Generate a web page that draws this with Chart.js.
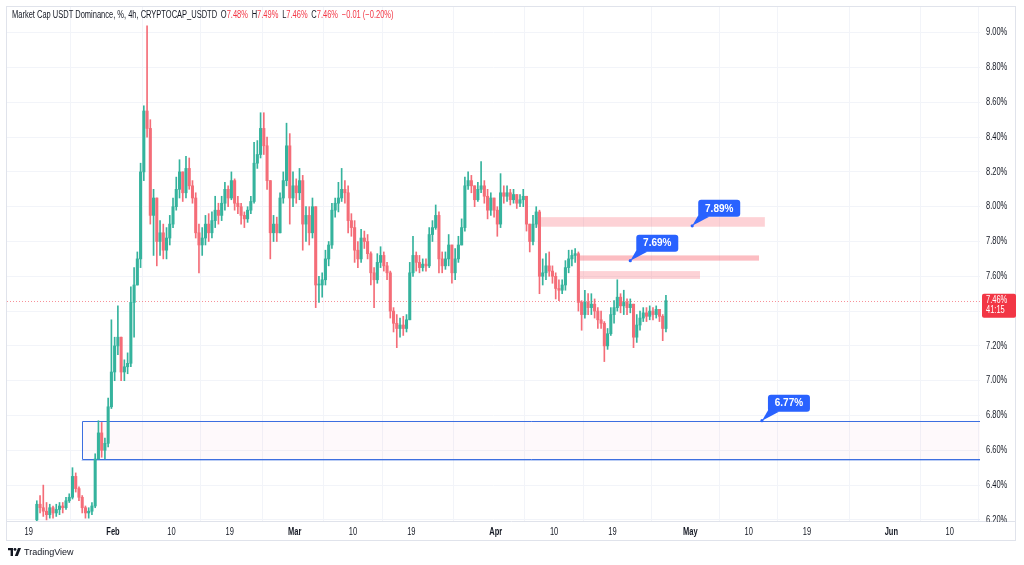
<!DOCTYPE html>
<html>
<head>
<meta charset="utf-8">
<script src="https://cdn.jsdelivr.net/npm/chart.js@4.4.1/dist/chart.umd.min.js"></script>
<style>
  html, body { margin: 0; padding: 0; background: #fff; }
  #wrap { position: relative; width: 1024px; height: 565px; overflow: hidden; }
  #c { position: absolute; left: 0; top: 0; }
  #hdr { position: absolute; left: 12px; top: 8px; font: 10px 'Liberation Sans', Arial, sans-serif; color: #131722; white-space: nowrap; line-height: 14px; transform: scaleX(0.75); transform-origin: 0 0; }
  #hdr .v { color: #f23645; }
  #hdr .k { margin-left: 5px; }
  #ftr { position: absolute; left: 8px; top: 547px; font: 9px 'Liberation Sans', Arial, sans-serif; color: #131722; white-space: nowrap; display: flex; align-items: center; gap: 3px; }
</style>
</head>
<body>
<div id="wrap">
  <canvas id="c" width="1024" height="565"></canvas>
  <div id="hdr">Market Cap USDT Dominance, %, 4h, CRYPTOCAP_USDTD<span class="k">O</span><span class="v">7.48%</span><span class="k">H</span><span class="v">7.49%</span><span class="k">L</span><span class="v">7.46%</span><span class="k">C</span><span class="v">7.46%</span><span class="v k">−0.01 (−0.20%)</span></div>
  <div id="ftr"><svg width="13" height="8" viewBox="0 0 13 8"><path d="M0 0h5v8H2.6V2.3H0z" fill="#131722"/><circle cx="7" cy="1.4" r="1.4" fill="#131722"/><path d="M10 0h3l-3.2 8H6.8z" fill="#131722"/></svg><span>TradingView</span></div>
</div>
<script>
// 12h candles, first one centred on Jan 20 06:00 (x unit = day of year)
const firstCandleDay = 20.25;
const candleStep = 0.5;
const firstOpen = 6.20;

const closes = [
  6.29, 6.27, 6.25, 6.23, 6.27, 6.24, 6.26, 6.28, 6.27, 6.31,
  6.33, 6.45, 6.38, 6.33, 6.27, 6.24, 6.25, 6.28, 6.55, 6.70,
  6.60, 6.64, 6.85, 7.05, 7.20, 7.25, 7.05, 7.08, 7.10, 7.45,
  7.55, 7.70, 8.20, 8.55, 8.45, 7.95, 8.05, 7.80, 7.85, 7.75,
  7.82, 7.90, 8.00, 8.10, 8.20, 8.08, 8.22, 8.12, 8.05, 7.85,
  7.78, 7.82, 7.90, 7.85, 7.92, 7.98, 7.95, 8.02, 8.10, 8.05,
  8.15, 8.02, 8.00, 7.95, 7.93, 7.98, 8.03, 8.25, 8.30, 8.45,
  8.35, 8.15, 7.85, 7.90, 7.85, 8.05, 8.15, 8.35, 8.05, 8.12,
  8.08, 8.15, 7.90, 7.95, 7.85, 8.00, 7.55, 7.55, 7.58, 7.70,
  7.78, 7.98, 8.02, 8.05, 8.10, 8.08, 7.92, 7.88, 7.75, 7.70,
  7.82, 7.80, 7.73, 7.62, 7.58, 7.68, 7.72, 7.66, 7.62, 7.40,
  7.33, 7.30, 7.32, 7.30, 7.35, 7.62, 7.72, 7.68, 7.65, 7.67,
  7.66, 7.84, 7.88, 7.95, 7.70, 7.66, 7.70, 7.78, 7.62, 7.70,
  7.78, 7.88, 8.12, 8.15, 8.12, 8.04, 8.10, 8.12, 8.06, 7.98,
  8.05, 7.98, 7.90, 8.08, 8.06, 8.08, 8.04, 8.07, 8.02, 8.04,
  8.06, 7.90, 7.80, 7.90, 7.97, 7.60, 7.62, 7.66, 7.63, 7.60,
  7.53, 7.52, 7.55, 7.65, 7.70, 7.72, 7.73, 7.45, 7.38, 7.45,
  7.42, 7.44, 7.40, 7.35, 7.33, 7.20, 7.27, 7.38, 7.42, 7.48,
  7.43, 7.45, 7.42, 7.44, 7.25, 7.32, 7.36, 7.39, 7.37, 7.40,
  7.38, 7.41, 7.37, 7.30, 7.46
];
const highs = [
  6.31, 6.34, 6.40, 6.30, 6.29, 6.28, 6.29, 6.30, 6.30, 6.33,
  6.35, 6.50, 6.47, 6.39, 6.34, 6.28, 6.27, 6.30, 6.58, 6.77,
  6.76, 6.67, 6.90, 7.35, 7.25, 7.43, 7.25, 7.12, 7.16, 7.54,
  7.65, 7.74, 8.25, 8.58, 9.04, 8.50, 8.10, 8.05, 7.92, 7.90,
  7.88, 7.95, 8.05, 8.17, 8.27, 8.20, 8.29, 8.28, 8.15, 8.08,
  7.90, 7.88, 7.95, 7.96, 7.97, 8.06, 8.02, 8.06, 8.14, 8.12,
  8.20, 8.16, 8.06, 8.02, 7.97, 8.00, 8.06, 8.37, 8.38, 8.54,
  8.54, 8.40, 8.15, 7.95, 7.94, 8.08, 8.20, 8.48, 8.42, 8.20,
  8.16, 8.22, 8.18, 8.00, 8.00, 8.05, 8.00, 7.60, 7.62, 7.75,
  7.80, 8.02, 8.05, 8.14, 8.22, 8.15, 8.12, 7.96, 7.92, 7.80,
  7.87, 7.86, 7.84, 7.74, 7.65, 7.73, 7.77, 7.74, 7.68, 7.63,
  7.42, 7.38, 7.36, 7.37, 7.38, 7.68, 7.83, 7.74, 7.72, 7.70,
  7.70, 7.88, 7.92, 8.01, 7.97, 7.74, 7.74, 7.84, 7.78, 7.76,
  7.83, 7.93, 8.17, 8.20, 8.18, 8.12, 8.14, 8.26, 8.15, 8.10,
  8.08, 8.05, 8.00, 8.19, 8.12, 8.12, 8.10, 8.10, 8.07, 8.07,
  8.10, 8.06, 7.90, 7.95, 8.00, 7.98, 7.70, 7.73, 7.74, 7.66,
  7.62, 7.58, 7.58, 7.69, 7.75, 7.75, 7.76, 7.74, 7.46, 7.52,
  7.50, 7.50, 7.47, 7.42, 7.40, 7.34, 7.30, 7.42, 7.46, 7.58,
  7.50, 7.52, 7.47, 7.47, 7.44, 7.38, 7.40, 7.42, 7.42, 7.43,
  7.42, 7.43, 7.41, 7.38, 7.49
];
const lows = [
  6.18, 6.24, 6.22, 6.20, 6.21, 6.21, 6.22, 6.23, 6.24, 6.26,
  6.30, 6.32, 6.36, 6.31, 6.24, 6.21, 6.21, 6.23, 6.27, 6.55,
  6.56, 6.55, 6.62, 6.84, 7.00, 7.15, 7.00, 7.00, 7.04, 7.08,
  7.25, 7.55, 7.65, 8.15, 8.40, 7.90, 7.72, 7.66, 7.72, 7.70,
  7.70, 7.78, 7.88, 7.98, 8.05, 8.03, 8.05, 8.10, 8.02, 7.82,
  7.62, 7.72, 7.78, 7.80, 7.82, 7.88, 7.90, 7.92, 7.98, 8.00,
  8.04, 7.98, 7.96, 7.90, 7.88, 7.91, 7.96, 8.02, 8.22, 8.28,
  8.30, 8.10, 7.70, 7.80, 7.80, 7.85, 8.02, 8.12, 7.90, 8.00,
  8.02, 8.04, 7.75, 7.80, 7.78, 7.82, 7.42, 7.45, 7.48, 7.55,
  7.66, 7.76, 7.94, 7.97, 8.03, 8.02, 7.85, 7.83, 7.68, 7.65,
  7.68, 7.76, 7.70, 7.55, 7.42, 7.56, 7.65, 7.63, 7.58, 7.36,
  7.28, 7.19, 7.25, 7.26, 7.28, 7.35, 7.60, 7.63, 7.62, 7.63,
  7.63, 7.65, 7.80, 7.87, 7.62, 7.62, 7.64, 7.66, 7.56, 7.58,
  7.68, 7.78, 7.86, 8.10, 8.08, 8.00, 8.03, 8.08, 8.02, 7.93,
  7.95, 7.94, 7.83, 7.88, 8.02, 8.03, 8.01, 8.02, 7.99, 8.00,
  8.00, 7.86, 7.74, 7.78, 7.88, 7.50, 7.55, 7.58, 7.60, 7.56,
  7.47, 7.46, 7.50, 7.52, 7.62, 7.66, 7.68, 7.40, 7.29, 7.36,
  7.38, 7.38, 7.36, 7.30, 7.30, 7.11, 7.18, 7.26, 7.33, 7.40,
  7.39, 7.38, 7.38, 7.39, 7.19, 7.22, 7.29, 7.34, 7.34, 7.35,
  7.35, 7.36, 7.34, 7.23, 7.28
];

// axis ticks
const priceTicks = [6.2, 6.4, 6.6, 6.8, 7.0, 7.2, 7.4, 7.6, 7.8, 8.0, 8.2, 8.4, 8.6, 8.8, 9.0];
const timeTickDays = [19, 32, 41, 50, 60, 69, 78, 91, 100, 109, 121, 130, 139, 152, 161];
const timeTickLabels = ['19', 'Feb', '10', '19', 'Mar', '10', '19', 'Apr', '10', '19', 'May', '10', '19', 'Jun', '10'];

// drawings on the chart (day of year / price %)
const rangeBox = { from: 27.15, top: 6.77, bottom: 6.55 };
const zones = [
  { from: 97.4, to: 132.5, top: 7.94, bottom: 7.885, fill: 'rgba(247, 82, 95, 0.26)' },
  { from: 103.5, to: 131.6, top: 7.72, bottom: 7.69, fill: 'rgba(247, 82, 95, 0.38)' },
  { from: 103.9, to: 122.5, top: 7.63, bottom: 7.585, fill: 'rgba(247, 82, 95, 0.26)' }
];
const callouts = [
  { day: 121.3, value: 7.89, text: '7.89%' },
  { day: 111.75, value: 7.69, text: '7.69%' },
  { day: 132.05, value: 6.77, text: '6.77%' }
];
const lastPrice = 7.46;
const countdown = '41:15';

const upColor = '#35b39d';
const downColor = '#f46d78';
const labelFont = "'Liberation Sans', Arial, sans-serif";
const textSqueeze = 0.75;

const opens = closes.map((c, i) => i === 0 ? firstOpen : closes[i - 1]);
const times = closes.map((c, i) => firstCandleDay + i * candleStep);
const colorOf = i => closes[i] >= opens[i] ? upColor : downColor;

function roundRect(ctx, x, y, w, h, r) {
  ctx.beginPath();
  ctx.moveTo(x + r, y);
  ctx.lineTo(x + w - r, y);
  ctx.quadraticCurveTo(x + w, y, x + w, y + r);
  ctx.lineTo(x + w, y + h - r);
  ctx.quadraticCurveTo(x + w, y + h, x + w - r, y + h);
  ctx.lineTo(x + r, y + h);
  ctx.quadraticCurveTo(x, y + h, x, y + h - r);
  ctx.lineTo(x, y + r);
  ctx.quadraticCurveTo(x, y, x + r, y);
  ctx.closePath();
}

// narrow text like the tradingview screenshot
function squeezedText(ctx, text, x, y, align) {
  ctx.save();
  ctx.translate(x, y);
  ctx.scale(textSqueeze, 1);
  ctx.textAlign = align;
  ctx.textBaseline = 'middle';
  ctx.fillText(text, 0, 0);
  ctx.restore();
}

const drawings = {
  id: 'drawings',
  beforeDatasetsDraw(chart) {
    const { ctx, chartArea: a, scales: { x, y } } = chart;
    ctx.save();
    ctx.beginPath();
    ctx.rect(a.left, a.top, a.right - a.left, a.bottom - a.top);
    ctx.clip();
    // long range box
    const bx = x.getPixelForValue(rangeBox.from);
    const bt = y.getPixelForValue(rangeBox.top);
    const bb = y.getPixelForValue(rangeBox.bottom);
    ctx.fillStyle = 'rgba(240, 90, 150, 0.035)';
    ctx.fillRect(bx, bt, a.right - bx, bb - bt);
    ctx.strokeStyle = '#3d6fe0';
    ctx.lineWidth = 1;
    ctx.beginPath();
    ctx.moveTo(a.right, Math.round(bt) + 0.5);
    ctx.lineTo(Math.round(bx) + 0.5, Math.round(bt) + 0.5);
    ctx.lineTo(Math.round(bx) + 0.5, Math.round(bb) + 0.5);
    ctx.lineTo(a.right, Math.round(bb) + 0.5);
    ctx.stroke();
    ctx.strokeStyle = 'rgba(61, 111, 224, 0.35)';
    ctx.beginPath();
    ctx.moveTo(bx, Math.round(bb) + 1.5);
    ctx.lineTo(a.right, Math.round(bb) + 1.5);
    ctx.stroke();
    // pink zones
    zones.forEach(z => {
      const l = x.getPixelForValue(z.from), r = x.getPixelForValue(z.to);
      const t = y.getPixelForValue(z.top), b = y.getPixelForValue(z.bottom);
      ctx.fillStyle = z.fill;
      ctx.fillRect(l, t, r - l, b - t);
    });
    // last price line
    const py = Math.round(y.getPixelForValue(lastPrice)) + 0.5;
    ctx.strokeStyle = 'rgba(242, 54, 69, 0.55)';
    ctx.setLineDash([1, 2]);
    ctx.beginPath();
    ctx.moveTo(a.left, py);
    ctx.lineTo(a.right, py);
    ctx.stroke();
    ctx.restore();
  },
  afterDatasetsDraw(chart) {
    const { ctx, scales: { x, y } } = chart;
    ctx.save();
    callouts.forEach(c => {
      const ax = x.getPixelForValue(c.day), ay = y.getPixelForValue(c.value);
      const w = 42, h = 17;
      const bx = ax + 6, by = ay - 26;
      ctx.fillStyle = '#2962ff';
      roundRect(ctx, bx, by, w, h, 3);
      ctx.fill();
      ctx.beginPath();
      ctx.moveTo(bx + 1, by + h - 3);
      ctx.lineTo(bx + 11, by + h);
      ctx.lineTo(ax, ay);
      ctx.closePath();
      ctx.fill();
      ctx.beginPath();
      ctx.arc(ax, ay, 1.6, 0, Math.PI * 2);
      ctx.fill();
      ctx.fillStyle = '#ffffff';
      ctx.font = 'bold 10px ' + labelFont;
      ctx.textAlign = 'center';
      ctx.textBaseline = 'middle';
      ctx.fillText(c.text, bx + w / 2, by + h / 2 + 0.5);
    });
    ctx.restore();
  },
  afterDraw(chart) {
    const { ctx, chartArea: a, scales: { x, y } } = chart;
    ctx.save();
    // frame
    ctx.strokeStyle = '#e0e3eb';
    ctx.lineWidth = 1;
    ctx.strokeRect(a.left - 0.5, a.top - 0.5, 1016 - a.left, 541 - a.top);
    ctx.beginPath();
    ctx.moveTo(a.left, Math.round(a.bottom) + 0.5);
    ctx.lineTo(1016, Math.round(a.bottom) + 0.5);
    ctx.stroke();
    // price axis labels (clipped at the time axis)
    ctx.save();
    ctx.beginPath();
    ctx.rect(a.right, 0, 1024 - a.right, a.bottom + 1);
    ctx.clip();
    ctx.fillStyle = '#131722';
    ctx.font = '10px ' + labelFont;
    priceTicks.forEach(v => squeezedText(ctx, v.toFixed(2) + '%', a.right + 6, y.getPixelForValue(v), 'left'));
    ctx.restore();
    // time axis labels
    timeTickDays.forEach((d, i) => {
      const lbl = timeTickLabels[i];
      ctx.fillStyle = '#131722';
      ctx.font = (/[A-Za-z]/.test(lbl) ? 'bold ' : '') + '10px ' + labelFont;
      squeezedText(ctx, lbl, x.getPixelForValue(d), a.bottom + 11, 'center');
    });
    // last price tag
    const py = y.getPixelForValue(lastPrice);
    ctx.fillStyle = '#f23645';
    roundRect(ctx, a.right + 2, py - 7, 34, 24, 2);
    ctx.fill();
    ctx.fillStyle = '#ffffff';
    ctx.font = '10px ' + labelFont;
    squeezedText(ctx, lastPrice.toFixed(2) + '%', a.right + 6, py, 'left');
    squeezedText(ctx, countdown, a.right + 6, py + 10, 'left');
    ctx.restore();
  }
};

new Chart(document.getElementById('c'), {
  type: 'bar',
  data: {
    datasets: [
      {
        label: 'wicks',
        data: times.map((t, i) => ({ x: t, y: [Math.min(lows[i], opens[i], closes[i]), Math.max(highs[i], opens[i], closes[i])] })),
        backgroundColor: ctx => colorOf(ctx.dataIndex),
        barThickness: 1,
        grouped: false,
        order: 2
      },
      {
        label: 'bodies',
        data: times.map((t, i) => ({ x: t, y: [opens[i], closes[i]] })),
        backgroundColor: ctx => colorOf(ctx.dataIndex),
        barThickness: 2.4,
        minBarLength: 1,
        grouped: false,
        order: 1
      }
    ]
  },
  options: {
    responsive: false,
    animation: false,
    layout: { padding: { left: 7, top: 7, right: 8, bottom: 24 } },
    plugins: { legend: { display: false }, tooltip: { enabled: false } },
    scales: {
      x: {
        type: 'linear',
        offset: false,
        min: 15.654,
        max: 165.67,
        afterBuildTicks: s => { s.ticks = timeTickDays.map(v => ({ value: v })); },
        afterFit: s => { s.height = 20; s.paddingLeft = 0; s.paddingRight = 0; },
        grid: { color: '#f2f4f9', drawTicks: false },
        border: { display: false },
        ticks: { display: false }
      },
      y: {
        type: 'linear',
        position: 'right',
        min: 6.1937,
        max: 9.1477,
        afterBuildTicks: s => { s.ticks = priceTicks.map(v => ({ value: v })); },
        afterFit: s => { s.width = 36; s.paddingTop = 0; s.paddingBottom = 0; },
        grid: { color: '#f2f4f9', drawTicks: false },
        border: { display: false },
        ticks: { display: false }
      }
    }
  },
  plugins: [drawings]
});
</script>
</body>
</html>
